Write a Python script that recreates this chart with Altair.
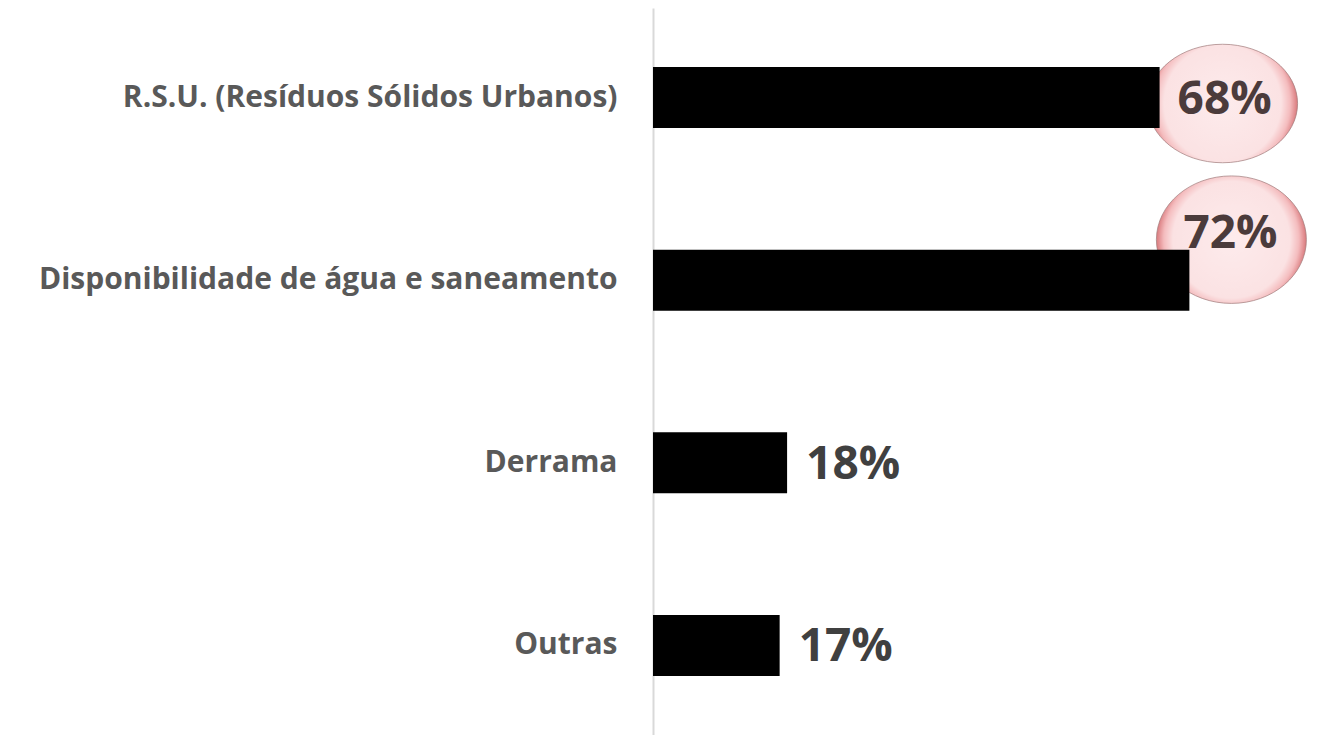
import altair as alt
import pandas as pd

categories = ["R.S.U. (Resíduos Sólidos Urbanos)", "Disponibilidade de água e saneamento", "Derrama", "Outras"]
values = [68, 72, 18, 17]

df = pd.DataFrame({"cat": categories, "value": values})
df["label"] = [f"{v}%" for v in values]

K = 0.5523


def ellipse_path(cx, cy, rx, ry):
    p = [
        f"M {cx-rx:.3f} {cy:.3f}",
        f"C {cx-rx:.3f} {cy-K*ry:.3f} {cx-K*rx:.3f} {cy-ry:.3f} {cx:.3f} {cy-ry:.3f}",
        f"C {cx+K*rx:.3f} {cy-ry:.3f} {cx+rx:.3f} {cy-K*ry:.3f} {cx+rx:.3f} {cy:.3f}",
        f"C {cx+rx:.3f} {cy+K*ry:.3f} {cx+K*rx:.3f} {cy+ry:.3f} {cx:.3f} {cy+ry:.3f}",
        f"C {cx-K*rx:.3f} {cy+ry:.3f} {cx-rx:.3f} {cy+K*ry:.3f} {cx-rx:.3f} {cy:.3f} Z",
    ]
    return " ".join(p)


grad = {
    "gradient": "radial",
    "x1": 0.5, "y1": 0.5, "r1": 0,
    "x2": 0.5, "y2": 0.5, "r2": 0.5,
    "stops": [
        {"offset": 0, "color": "#fdebec"},
        {"offset": 0.78, "color": "#fbe2e3"},
        {"offset": 0.9, "color": "#f4bcbe"},
        {"offset": 1, "color": "#d9797c"},
    ],
}

xs = alt.X("value:Q", scale=alt.Scale(domain=[0, 87.25], nice=False, zero=True), axis=None)
ys = alt.Y(
    "cat:N",
    sort=categories,
    scale=alt.Scale(paddingInner=0.666, paddingOuter=0.323),
    axis=alt.Axis(
        title=None,
        ticks=False,
        grid=False,
        domain=True,
        domainColor="#d9d9d9",
        domainWidth=2,
        labelFont="Open Sans",
        labelFontWeight="bold",
        labelFontSize=30,
        labelColor="#595959",
        labelPadding=36,
        labelLimit=700,
    ),
)

base = alt.Chart(df).encode(x=xs, y=ys)

circle1 = base.transform_filter(alt.datum.cat == categories[0]).mark_point(
    shape=ellipse_path(0.84, 0.08, 1.0, 0.79),
    size=22500, filled=True, fill=grad, fillOpacity=1,
    stroke="#a07c7c", strokeWidth=1, strokeOpacity=0.7,
)
circle2 = base.transform_filter(alt.datum.cat == categories[1]).mark_point(
    shape=ellipse_path(0.56, -0.54, 1.0, 0.85),
    size=22500, filled=True, fill=grad, fillOpacity=1,
    stroke="#a07c7c", strokeWidth=1, strokeOpacity=0.7,
)

bars = base.mark_bar(color="#000000")

txt_font = dict(font="Open Sans", fontWeight="bold", fontSize=46, align="left", baseline="middle")

t1 = base.transform_filter(alt.datum.cat == categories[0]).mark_text(
    color="#4b3b3b", dx=18, dy=2, **txt_font
).encode(text="label:N")
t2 = base.transform_filter(alt.datum.cat == categories[1]).mark_text(
    color="#4b3b3b", dx=-6, dy=-46, **txt_font
).encode(text="label:N")
t3 = base.transform_filter(
    (alt.datum.cat == categories[2]) | (alt.datum.cat == categories[3])
).mark_text(color="#404040", dx=19, dy=2, **txt_font).encode(text="label:N")

chart = alt.layer(circle1, circle2, bars, t1, t2, t3).properties(
    width=650,
    height=727,
    autosize=alt.AutoSizeParams(type="none"),
    padding={"left": 645, "top": 0, "right": 8, "bottom": 0},
).configure(background="#ffffff", view=alt.ViewConfig(stroke=None, strokeWidth=0))

chart.save("out.html", embed_options={"renderer": "svg", "actions": False})
